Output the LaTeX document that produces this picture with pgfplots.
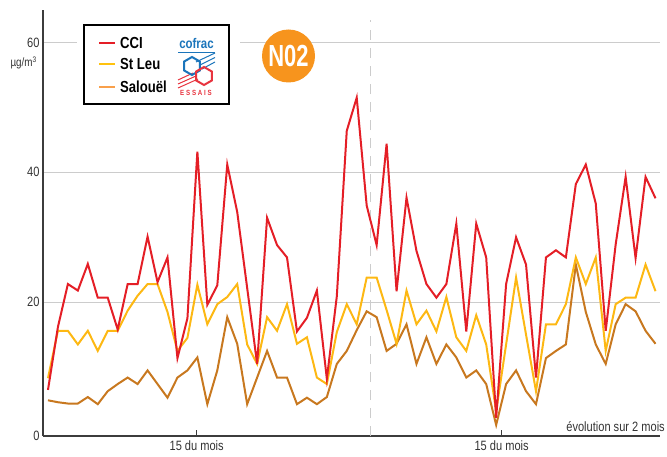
\documentclass[border=0pt]{standalone}
\usepackage{fontspec}
\setmainfont{Liberation Sans}[FakeStretch=0.82]
\newfontfamily\nofont{Liberation Sans}[FakeStretch=0.72]
\usepackage{pgfplots}
\usepackage{pgfplotstable}
\pgfplotsset{compat=1.18}
\definecolor{ccired}{HTML}{E41E26}
\definecolor{leuyel}{HTML}{FDB813}
\definecolor{salbrn}{HTML}{C8781F}
\definecolor{salleg}{HTML}{F9A04B}
\definecolor{leuleg}{HTML}{FFC20E}
\definecolor{gridgray}{HTML}{CCCCCC}
\definecolor{axisgray}{HTML}{3C3C3C}
\definecolor{tickgray}{HTML}{333333}
\definecolor{noorange}{HTML}{F7941D}
\definecolor{cofblue}{HTML}{1B75BB}
\definecolor{cofred}{HTML}{E8343F}
\pgfplotstableread{
x cci stleu sal
0 6.5 8.3 4.9
1 16.2 15.6 4.6
2 22.8 15.6 4.4
3 21.8 13.5 4.4
4 25.9 15.6 5.4
5 20.7 12.5 4.3
6 20.7 15.6 6.3
7 15.8 15.6 7.4
8 22.8 18.7 8.4
9 22.8 21.0 7.4
10 30.1 22.8 9.5
11 23.1 22.8 7.4
12 26.9 18.5 5.3
13 11.4 12.5 8.4
14 17.5 14.5 9.5
15 43.2 22.7 11.5
16 19.6 16.6 4.3
17 22.6 19.7 9.5
18 41.2 20.8 17.7
19 33.9 22.8 13.6
20 22.2 13.5 4.3
21 10.5 10.5 8.4
22 33.0 17.7 12.5
23 28.8 15.6 8.4
24 26.9 19.7 8.4
25 15.5 13.6 4.3
26 17.6 14.6 5.3
27 21.8 8.4 4.3
28 8.2 7.4 5.4
29 20.9 15.4 10.5
30 46.4 19.7 12.5
31 51.5 16.6 15.7
32 34.9 23.8 18.6
33 28.8 23.8 17.7
34 44.4 18.8 12.5
35 21.7 13.6 13.6
36 36.1 21.8 16.6
37 27.9 16.6 10.5
38 22.8 18.7 14.6
39 20.7 15.5 10.5
40 22.8 20.8 13.5
41 32.1 14.6 11.5
42 15.5 12.5 8.4
43 32.1 18.0 9.5
44 26.9 13.5 7.4
45 2.2 3.2 1.1
46 22.8 13.5 7.4
47 30.0 23.8 9.5
48 25.8 15.0 6.3
49 8.4 6.3 4.3
50 26.9 16.6 11.4
51 28.0 16.6 12.5
52 26.9 19.7 13.5
53 38.2 26.9 25.8
54 41.2 22.8 18.5
55 35.2 26.9 13.5
56 15.6 12.5 10.5
57 28.9 19.7 16.6
58 39.3 20.7 19.7
59 26.8 20.7 18.6
60 39.3 25.8 15.6
61 36.0 21.7 13.6
}\data
\begin{document}
\begin{tikzpicture}
\useasboundingbox (-43pt,-20pt) rectangle (624pt,436pt);
\begin{axis}[
  at={(0pt,0pt)}, anchor=south west,
  scale only axis, width=617pt, height=426pt,
  xmin=-0.5, xmax=61.45, ymin=-0.6, ymax=65,
  axis x line*=bottom, axis y line*=left,
  axis line style={draw=axisgray, line width=1.6pt},
  ytick={20,40,60},
  extra y ticks={-0.6}, extra y tick labels={0},
  extra y tick style={grid=none},
  ymajorgrids,
  grid style={draw=gridgray, line width=1.2pt},
  xtick={14.93,45.55},
  xticklabels={15 du mois,15 du mois},
  tick align=inside,
  major tick length=6pt,
  xtick style={draw=axisgray, line width=1pt},
  ytick style={draw=none},
  tick label style={font=\fontsize{13.5}{14}\selectfont, text=tickgray},
  /pgf/number format/assume math mode=true,
  xticklabel style={yshift=-1pt},
]
\draw[gridgray, line width=1.5pt, dash pattern=on 10pt off 8pt] (axis cs:32.4,-0.6) -- (axis cs:32.4,63.5);
\addplot[salbrn, line width=2pt, no markers, sharp plot] table[x=x,y=sal]{\data};
\addplot[leuyel, line width=2pt, no markers, sharp plot] table[x=x,y=stleu]{\data};
\addplot[ccired, line width=2pt, no markers, sharp plot] table[x=x,y=cci]{\data};
\end{axis}
% unit label
\node[anchor=east, inner sep=0pt, text=tickgray, font=\fontsize{12}{12}\selectfont] at (-6pt,373pt) {µg/m\textsuperscript{3}};
% evolution label
\node[anchor=base east, inner sep=0pt, text=tickgray, font=\fontsize{13.5}{14}\selectfont] at (622pt,4.5pt) {évolution sur 2 mois};
% legend mask and box
\fill[white] (34pt,326pt) rectangle (197pt,416pt);
\draw[black, line width=1.5pt, fill=white] (41pt,332pt) rectangle (186pt,411pt);
\draw[ccired, line width=2pt] (56pt,393pt) -- (72pt,393pt);
\draw[leuleg, line width=2pt] (56pt,372pt) -- (72pt,372pt);
\draw[salleg, line width=2pt] (56pt,349pt) -- (72pt,349pt);
\node[anchor=west, inner sep=0pt, font=\bfseries\fontsize{16}{16}\selectfont] at (77pt,393pt) {CCI};
\node[anchor=west, inner sep=0pt, font=\bfseries\fontsize{16}{16}\selectfont] at (77pt,372pt) {St Leu};
\node[anchor=west, inner sep=0pt, font=\bfseries\fontsize{16}{16}\selectfont] at (77pt,349pt) {Salouël};
% cofrac logo
\node[anchor=base, inner sep=0pt, text=cofblue, font=\bfseries\fontsize{14}{14}\selectfont] at (153.5pt,387pt) {cofrac};
\draw[cofblue, line width=1.2pt] (135pt,383.5pt) -- (172pt,383.5pt);
\draw[cofblue, line width=1pt] (153pt,374pt) -- (172pt,383pt);
\draw[cofblue, line width=1pt] (156pt,370.5pt) -- (172pt,378.5pt);
\draw[cofblue, line width=1pt] (159pt,367pt) -- (172pt,374pt);
\draw[cofred, line width=1pt] (135pt,356pt) -- (150pt,363pt);
\draw[cofred, line width=1pt] (135pt,352pt) -- (153pt,360pt);
\draw[cofred, line width=1pt] (135pt,348pt) -- (155pt,357pt);
\draw[cofblue, line width=2pt] (149pt,370pt) +(90:9pt) -- +(30:9pt) -- +(-30:9pt) -- +(-90:9pt) -- +(-150:9pt) -- +(150:9pt) -- cycle;
\draw[cofred, line width=2pt] (161pt,360pt) +(90:9pt) -- +(30:9pt) -- +(-30:9pt) -- +(-90:9pt) -- +(-150:9pt) -- +(150:9pt) -- cycle;
\node[anchor=center, inner sep=0pt, text=cofred, font=\bfseries\fontsize{7.5}{8}\selectfont] at (153pt,343.5pt) {E\hspace{1.8pt}S\hspace{1.8pt}S\hspace{1.8pt}A\hspace{1.8pt}I\hspace{1.8pt}S};
% N02 badge
\fill[noorange] (245.5pt,380pt) circle (26.5pt);
\node[anchor=center, inner sep=0pt, text=white, font=\nofont\bfseries\fontsize{30.5}{31}\selectfont] at (245.5pt,380pt) {N02};
\end{tikzpicture}
\end{document}
